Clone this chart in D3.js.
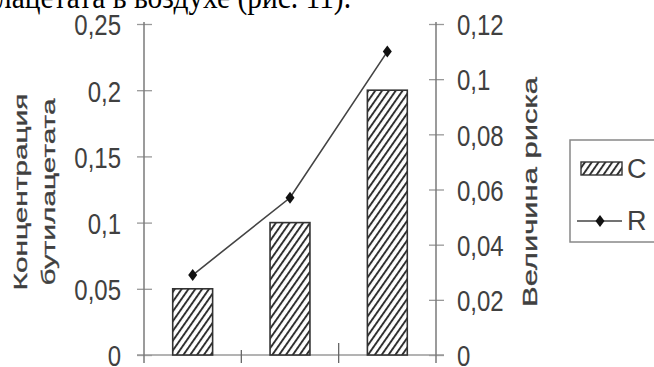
<!DOCTYPE html>
<html>
<head>
<meta charset="utf-8">
<script src="https://cdn.jsdelivr.net/npm/d3@7"></script>
<style>
  html, body { margin: 0; padding: 0; background: #fff; }
  svg { display: block; }
</style>
</head>
<body>
<svg id="chart" width="654" height="367"></svg>
<script>
// ---- data ----
const categories = ["1", "2", "3"];
const concentration = [0.05, 0.1, 0.2];      // C (left axis)
const risk = [0.029, 0.057, 0.11];           // R (right axis)
const leftTicks = [0, 0.05, 0.1, 0.15, 0.2, 0.25];
const rightTicks = [0, 0.02, 0.04, 0.06, 0.08, 0.1, 0.12];
const headingText = "лацетата в воздухе (рис. 11).";
const leftTitle = ["Концентрация", "бутилацетата"];
const rightTitle = "Величина риска";
const legendLabels = ["C", "R"];

// ---- layout ----
const svg = d3.select("#chart");
const x0 = 144, x1 = 436, yBottom = 355, yTop = 24;
const textColor = "#404040";
const axisColor = "#7a7a7a";
const fmt = d => String(d).replace(".", ",");

const x = d3.scaleBand().domain(categories).range([x0, x1])
  .paddingInner(0.59).paddingOuter(0.295);
const yL = d3.scaleLinear().domain([0, 0.25]).range([yBottom, yTop]);
const yR = d3.scaleLinear().domain([0, 0.12]).range([yBottom, yTop]);

// hatch pattern
const defs = svg.append("defs");
const pat = defs.append("pattern").attr("id", "hatch")
  .attr("patternUnits", "userSpaceOnUse").attr("width", 5.6).attr("height", 10)
  .attr("patternTransform", "rotate(35)");
pat.append("rect").attr("width", 5.6).attr("height", 10).attr("fill", "#fff");
pat.append("line").attr("x1", 1).attr("x2", 1).attr("y1", 0).attr("y2", 10)
  .attr("stroke", "#2a2a2a").attr("stroke-width", 1.9);

// heading (cut-off text at top)
svg.append("text").attr("x", -3).attr("y", 8)
  .attr("font-family", "Liberation Serif, Times New Roman, serif")
  .attr("font-size", 34).attr("fill", "#000")
  .attr("textLength", 354).attr("lengthAdjust", "spacingAndGlyphs")
  .text(headingText);

// x axis line
svg.append("line").attr("x1", x0 - 7).attr("x2", x1 + 8)
  .attr("y1", yBottom).attr("y2", yBottom)
  .attr("stroke", "#9a9a9a").attr("stroke-width", 1.3);

// category boundary ticks
const bounds = categories.slice(1).map(c => x(c) - x.step() * x.paddingInner() / 2);
svg.selectAll(".xtick").data(bounds).enter().append("line")
  .attr("x1", d => d).attr("x2", d => d)
  .attr("y1", (d, i) => i === 0 ? yBottom - 5 : yBottom - 12).attr("y2", yBottom + 8)
  .attr("stroke", "#666").attr("stroke-width", 1.3);

// left axis
const gL = svg.append("g").attr("transform", `translate(${x0},0)`)
  .call(d3.axisLeft(yL).tickValues(leftTicks).tickFormat(fmt).tickSize(7).tickPadding(0));
gL.select(".domain").remove();
gL.append("line").attr("x1", 0).attr("x2", 0).attr("y1", yTop - 2).attr("y2", yBottom + 8)
  .attr("stroke", axisColor).attr("stroke-width", 1.5);
gL.selectAll(".tick line").attr("x1", -7).attr("x2", 8).attr("stroke", "#999").attr("stroke-width", 1.3);
gL.selectAll(".tick text")
  .attr("font-family", "Liberation Sans, Arial, sans-serif").attr("font-size", 30)
  .attr("fill", textColor).attr("text-anchor", "end")
  .attr("x", -23 / 0.8).attr("dy", "0.36em")
  .attr("transform", "scale(0.8,1)");

// right axis
const gR = svg.append("g").attr("transform", `translate(${x1},0)`)
  .call(d3.axisRight(yR).tickValues(rightTicks).tickFormat(fmt).tickSize(7).tickPadding(0));
gR.select(".domain").remove();
gR.append("line").attr("x1", 0).attr("x2", 0).attr("y1", yTop - 2).attr("y2", yBottom + 8)
  .attr("stroke", axisColor).attr("stroke-width", 1.5);
gR.selectAll(".tick line").attr("x1", -7).attr("x2", 8).attr("stroke", "#999").attr("stroke-width", 1.3);
gR.selectAll(".tick text")
  .attr("font-family", "Liberation Sans, Arial, sans-serif").attr("font-size", 30)
  .attr("fill", textColor).attr("text-anchor", "start")
  .attr("x", 21 / 0.8).attr("dy", "0.36em")
  .attr("transform", "scale(0.8,1)");

// bars
svg.selectAll(".bar").data(concentration).enter().append("rect")
  .attr("x", (d, i) => x(categories[i]))
  .attr("width", x.bandwidth())
  .attr("y", d => yL(d))
  .attr("height", d => yBottom - yL(d))
  .attr("fill", "url(#hatch)")
  .attr("stroke", "#333").attr("stroke-width", 1.6);

// risk line
const cx = (d, i) => x(categories[i]) + x.bandwidth() / 2;
svg.append("path").datum(risk)
  .attr("d", d3.line().x(cx).y(d => yR(d)))
  .attr("fill", "none").attr("stroke", "#444").attr("stroke-width", 1.6);
const diamond = "M0,-6 L4.5,0 L0,6 L-4.5,0 Z";
svg.selectAll(".pt").data(risk).enter().append("path")
  .attr("d", diamond)
  .attr("transform", (d, i) => `translate(${cx(d, i)},${yR(d)})`)
  .attr("fill", "#111");

// left title (two rotated lines)
const titleFont = "Liberation Sans, Arial, sans-serif";
const lt = [{t: leftTitle[0], bx: 27, len: 197}, {t: leftTitle[1], bx: 55, len: 187}];
lt.forEach(o => {
  svg.append("text")
    .attr("transform", `translate(${o.bx},192) rotate(-90)`)
    .attr("text-anchor", "middle")
    .attr("font-family", titleFont).attr("font-size", 19)
    .attr("fill", textColor).attr("stroke", textColor).attr("stroke-width", 0.3)
    .attr("textLength", o.len).attr("lengthAdjust", "spacingAndGlyphs")
    .text(o.t);
});

// right title
svg.append("text")
  .attr("transform", `translate(537,192) rotate(-90)`)
  .attr("text-anchor", "middle")
  .attr("font-family", titleFont).attr("font-size", 20)
  .attr("fill", textColor).attr("stroke", textColor).attr("stroke-width", 0.3)
  .attr("textLength", 230).attr("lengthAdjust", "spacingAndGlyphs")
  .text(rightTitle);

// legend
const lg = svg.append("g");
lg.append("rect").attr("x", 570).attr("y", 140).attr("width", 100).attr("height", 102)
  .attr("fill", "#fff").attr("stroke", "#888").attr("stroke-width", 1.5);
lg.append("rect").attr("x", 581).attr("y", 162).attr("width", 41).attr("height", 13)
  .attr("fill", "url(#hatch)").attr("stroke", "#333").attr("stroke-width", 1.4);
lg.append("text").attr("x", 627).attr("y", 178)
  .attr("font-family", titleFont).attr("font-size", 27).attr("fill", textColor)
  .text(legendLabels[0]);
lg.append("line").attr("x1", 577).attr("x2", 622).attr("y1", 221).attr("y2", 221)
  .attr("stroke", "#444").attr("stroke-width", 1.6);
lg.append("path").attr("d", diamond).attr("transform", "translate(600,221)").attr("fill", "#111");
lg.append("text").attr("x", 627).attr("y", 230)
  .attr("font-family", titleFont).attr("font-size", 27).attr("fill", textColor)
  .text(legendLabels[1]);
</script>
</body>
</html>
